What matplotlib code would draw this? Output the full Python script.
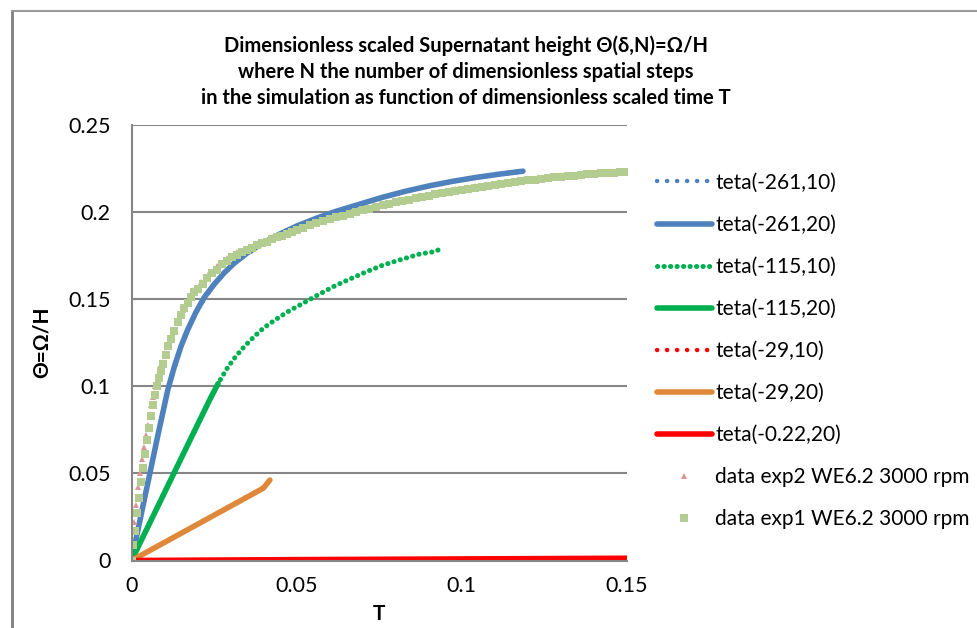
import matplotlib
matplotlib.use("Agg")
import matplotlib.pyplot as plt
from matplotlib.lines import Line2D

plt.rcParams['font.family'] = ['Lato', 'DejaVu Sans']

# experiment 1 (squares)
exp1_t = [0.0, 0.0006, 0.0012, 0.0018, 0.0024, 0.0030, 0.0036, 0.0042, 0.0048, 0.0054,
          0.0060, 0.0066, 0.0072, 0.0078, 0.0084, 0.0090, 0.0096, 0.0104, 0.0112, 0.0120,
          0.0130, 0.0140, 0.0150, 0.0160, 0.0170, 0.0180, 0.0190, 0.0200, 0.0215, 0.0230,
          0.0245, 0.0260, 0.0275, 0.0290, 0.0305, 0.0320, 0.0335, 0.0350, 0.0365, 0.0380,
          0.0395, 0.0410, 0.0425, 0.0440, 0.0455, 0.0470, 0.0485, 0.0500, 0.0520, 0.0540,
          0.0560, 0.0580, 0.0600, 0.0620, 0.0640, 0.0660, 0.0680, 0.0700, 0.0720, 0.0740,
          0.0760, 0.0780, 0.0800, 0.0820, 0.0840, 0.0860, 0.0880, 0.0900, 0.0920, 0.0940,
          0.0960, 0.0980, 0.1000, 0.1020, 0.1040, 0.1060, 0.1080, 0.1100, 0.1120, 0.1140,
          0.1160, 0.1180, 0.1200, 0.1220, 0.1240, 0.1260, 0.1280, 0.1300, 0.1320, 0.1340,
          0.1360, 0.1380, 0.1400, 0.1420, 0.1440, 0.1460, 0.1480, 0.1500]
exp1_theta = [0.0, 0.009, 0.017, 0.027, 0.036, 0.045, 0.053, 0.061, 0.069, 0.076,
              0.083, 0.089, 0.095, 0.100, 0.105, 0.109, 0.113, 0.118, 0.123, 0.127,
              0.132, 0.137, 0.141, 0.145, 0.148, 0.151, 0.154, 0.156, 0.159, 0.162,
              0.165, 0.167, 0.170, 0.172, 0.174, 0.1755, 0.177, 0.178, 0.1795, 0.181,
              0.182, 0.183, 0.1845, 0.1855, 0.1865, 0.1875, 0.1885, 0.1895, 0.191, 0.1925,
              0.194, 0.195, 0.196, 0.197, 0.198, 0.199, 0.200, 0.201, 0.202, 0.203,
              0.204, 0.2048, 0.2056, 0.2064, 0.2072, 0.208, 0.2088, 0.2095, 0.2102, 0.2109,
              0.2116, 0.2122, 0.2128, 0.2134, 0.214, 0.2146, 0.2152, 0.2158, 0.2163, 0.2168,
              0.2173, 0.2178, 0.2183, 0.2187, 0.2191, 0.2195, 0.2199, 0.2203, 0.2207, 0.2210,
              0.2213, 0.2216, 0.2219, 0.2222, 0.2224, 0.2226, 0.2228, 0.2230]

# experiment 2 (triangles)
exp2_t = [0.0, 0.0008, 0.0014, 0.0020, 0.0026, 0.0032, 0.0038, 0.0045, 0.0050, 0.0055,
          0.0060, 0.0065, 0.0072, 0.0080, 0.0090, 0.0100, 0.0112, 0.0125, 0.0140, 0.0155,
          0.0170, 0.0190, 0.0210, 0.0235, 0.0260, 0.0290, 0.0320, 0.0355, 0.0390, 0.0430,
          0.0470, 0.0520, 0.0570, 0.0620, 0.0680, 0.0740, 0.0800, 0.0860, 0.0920, 0.0980,
          0.1040, 0.1100, 0.1160, 0.1220, 0.1280, 0.1340, 0.1400, 0.1460, 0.1500]
exp2_theta = [0.0, 0.022, 0.032, 0.042, 0.050, 0.058, 0.065, 0.072, 0.078, 0.084,
              0.089, 0.094, 0.100, 0.106, 0.113, 0.119, 0.125, 0.131, 0.138, 0.144,
              0.149, 0.155, 0.160, 0.165, 0.169, 0.1735, 0.177, 0.180, 0.183, 0.186,
              0.1885, 0.1915, 0.1945, 0.1975, 0.2005, 0.2035, 0.2062, 0.2087, 0.211, 0.213,
              0.2148, 0.2164, 0.2178, 0.2192, 0.2204, 0.2214, 0.2222, 0.2229, 0.2233]

# simulations
b10_t = [0.0, 0.0040, 0.0080, 0.0110, 0.0150, 0.0195, 0.0250, 0.0310, 0.0400, 0.0500,
         0.0620, 0.0760, 0.0900, 0.1040, 0.1180]
b10_theta = [0.0, 0.036, 0.072, 0.098, 0.123, 0.1425, 0.1585, 0.1705, 0.1825, 0.192,
             0.2005, 0.2085, 0.215, 0.2198, 0.2232]

b20_t = [0.0, 0.0040, 0.0080, 0.0110, 0.0130, 0.0150, 0.0170, 0.0195, 0.0220, 0.0250,
         0.0280, 0.0310, 0.0350, 0.0400, 0.0450, 0.0500, 0.0560, 0.0620, 0.0690, 0.0760,
         0.0830, 0.0900, 0.0970, 0.1040, 0.1110, 0.1185]
b20_theta = [0.0, 0.036, 0.072, 0.098, 0.1115, 0.123, 0.1325, 0.1425, 0.151, 0.1585,
             0.165, 0.1705, 0.1765, 0.1825, 0.1875, 0.192, 0.1965, 0.2005, 0.2045, 0.2085,
             0.212, 0.215, 0.2176, 0.2198, 0.2217, 0.2235]

g10_t = [0.0, 0.0050, 0.0100, 0.0150, 0.0200, 0.0240, 0.0265, 0.0290, 0.0315, 0.0340,
         0.0370, 0.0400, 0.0434, 0.0470, 0.0511, 0.0560, 0.0612, 0.0660, 0.0713, 0.0760,
         0.0813, 0.0870, 0.0900, 0.0915, 0.0929]
g10_theta = [0.0, 0.0195, 0.039, 0.0585, 0.078, 0.0935, 0.1025, 0.1105, 0.1170, 0.1225,
             0.1283, 0.1335, 0.138, 0.1425, 0.1468, 0.152, 0.1573, 0.1615, 0.1659, 0.1695,
             0.1726, 0.1758, 0.1768, 0.1772, 0.1783]

g20_t = [0.0, 0.0100, 0.0200, 0.0240, 0.0262]
g20_theta = [0.0, 0.039, 0.078, 0.0935, 0.1015]

r10_t = [0.0, 0.0200, 0.0399]
r10_theta = [0.0, 0.0208, 0.0418]

o20_t = [0.0, 0.0200, 0.0399, 0.0419]
o20_theta = [0.0, 0.0208, 0.0415, 0.0462]

red_t = [0.0, 0.0500, 0.1000, 0.1500]
red_theta = [0.0, 0.0005, 0.0009, 0.0013]

labels = ['teta(-261,10)', 'teta(-261,20)', 'teta(-115,10)', 'teta(-115,20)',
          'teta(-29,10)', 'teta(-29,20)', 'teta(-0.22,20)',
          'data exp2 WE6.2 3000 rpm', 'data exp1 WE6.2 3000 rpm']

blue = '#4F81BD'
green = '#00B050'
red = '#FF0000'
orange = '#E0883A'
dots = (0, (0.05, 2.2))

fig = plt.figure(figsize=(9.78, 6.28), dpi=100)
ax = fig.add_axes([131.5 / 978, 1 - 560.5 / 628, (627 - 131.5) / 978, (560.5 - 125) / 628])

h1, = ax.plot(b10_t, b10_theta, color=blue, lw=3.2, linestyle=dots, dash_capstyle='round', label=labels[0])
h2, = ax.plot(b20_t, b20_theta, color=blue, lw=4, solid_capstyle='round', label=labels[1])
h3, = ax.plot(g10_t, g10_theta, color=green, lw=3.6, linestyle=(0, (0.05, 1.25)), dash_capstyle='round', label=labels[2])
h4, = ax.plot(g20_t, g20_theta, color=green, lw=4, solid_capstyle='round', label=labels[3])
h5, = ax.plot(r10_t, r10_theta, color=red, lw=3.2, linestyle=dots, dash_capstyle='round', label=labels[4])
h6, = ax.plot(o20_t, o20_theta, color=orange, lw=4, solid_capstyle='round', label=labels[5])
h7, = ax.plot(red_t, red_theta, color=red, lw=4, solid_capstyle='round', label=labels[6])
h8, = ax.plot(exp2_t, exp2_theta, linestyle='none', marker='^', ms=4.5, color='#D99694',
              markeredgewidth=0, label=labels[7])
h9, = ax.plot(exp1_t, exp1_theta, linestyle='none', marker='s', ms=6.3, color='#B3CC8F',
              markeredgewidth=0, label=labels[8])

ax.set_xlim(0, 0.15)
ax.set_ylim(0, 0.25)
ax.set_xticks([0, 0.05, 0.1, 0.15])
ax.set_xticklabels(['0', '0.05', '0.1', '0.15'])
ax.set_yticks([0, 0.05, 0.1, 0.15, 0.2, 0.25])
ax.set_yticklabels(['0', '0.05', '0.1', '0.15', '0.2', '0.25'])
ax.tick_params(length=0, labelsize=15.5, pad=15)
ax.tick_params(axis='x', pad=11)
ax.yaxis.grid(True, color='#868686', lw=1.5)
ax.set_axisbelow(True)
for s in ['top', 'right']:
    ax.spines[s].set_visible(False)
for s in ['left', 'bottom']:
    ax.spines[s].set_color('#868686')
    ax.spines[s].set_linewidth(1.5)

ax.set_xlabel('T', fontsize=15, fontweight='bold', labelpad=6)
ax.set_ylabel('Θ=Ω/H', fontsize=15, fontweight='bold', labelpad=12)

fig.text(466 / 978, 1 - 71.5 / 628,
         'Dimensionless scaled Supernatant height Θ(δ,N)=Ω/H\n'
         'where N the number of dimensionless spatial steps\n'
         'in the simulation as function of dimensionless scaled time T',
         ha='center', va='center', fontsize=14.5, fontweight='bold', linespacing=1.36)

leg = fig.legend(handles=[h1, h2, h3, h4, h5, h6, h7, h8, h9], loc='upper left',
                 bbox_to_anchor=(638 / 978, 1 - 154 / 628), frameon=False,
                 fontsize=15, handlelength=2.65, handletextpad=0.15, labelspacing=1.06,
                 markerscale=1.0)

# outer chart border
fig.add_artist(Line2D([12 / 978, 12 / 978], [0, 1 - 11 / 628], color='#7F7F7F', lw=2,
                      transform=fig.transFigure))
fig.add_artist(Line2D([12 / 978, 1], [1 - 11 / 628, 1 - 11 / 628], color='#9A9A9A', lw=1.5,
                      transform=fig.transFigure))

fig.savefig('out.png', dpi=100)
